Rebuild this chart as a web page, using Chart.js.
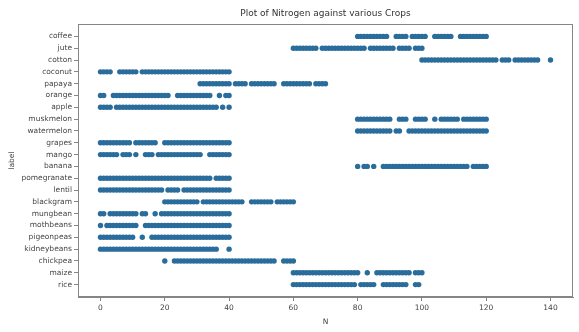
<!DOCTYPE html>
<html>
<head>
<meta charset="utf-8">
<script src="https://cdn.jsdelivr.net/npm/chart.js@4/dist/chart.umd.min.js"></script>
<style>
  html, body { margin: 0; padding: 0; background: #fff; }
  #c { display: block; }
</style>
</head>
<body>
<canvas id="c" width="579" height="332"></canvas>
<script>
// Crop labels, bottom row first
const crops = ['rice', 'maize', 'chickpea', 'kidneybeans', 'pigeonpeas', 'mothbeans',
  'mungbean', 'blackgram', 'lentil', 'pomegranate', 'banana', 'mango', 'grapes',
  'watermelon', 'muskmelon', 'apple', 'orange', 'papaya', 'coconut', 'cotton', 'jute', 'coffee'];

// Nitrogen (N) values observed for each crop
const riceN = [60,61,62,63,64,65,66,67,68,69,70,71,72,73,74,75,76,77,78,79,81,82,83,84,85,88,89,90,91,92,93,94,95,98,99];
const maizeN = [60,61,62,63,64,65,66,67,68,69,70,71,72,73,74,75,76,77,78,79,80,83,86,87,88,89,90,91,92,93,94,95,96,98,99,100];
const chickpeaN = [20,23,24,25,26,27,28,29,30,31,32,33,34,35,36,37,38,39,40,41,42,43,44,45,46,47,48,49,50,51,52,53,54,57,58,59,60];
const kidneybeansN = [0,1,2,3,4,5,6,7,8,9,10,11,12,13,14,15,16,17,18,19,20,21,22,23,24,25,26,27,28,29,30,31,32,33,34,35,36,40];
const pigeonpeasN = [0,1,2,3,4,5,6,7,8,9,10,13,16,17,18,19,20,21,22,23,24,25,26,27,28,29,30,31,32,33,34,35,36,37,38,39,40];
const mothbeansN = [0,2,3,4,5,6,7,8,9,10,11,14,15,16,17,18,19,20,21,22,23,24,25,26,27,28,29,30,31,32,33,34,35,36,37,38,39,40];
const mungbeanN = [0,1,3,4,5,6,7,8,9,10,11,13,14,17,19,20,21,22,23,24,25,26,27,28,29,30,31,32,33,34,35,36,37,38,39,40];
const blackgramN = [20,21,22,23,24,25,26,27,28,29,30,32,33,34,35,36,37,38,39,40,41,42,43,44,47,48,49,50,51,52,53,55,56,57,58,59,60];
const lentilN = [0,1,2,3,4,5,6,7,8,9,10,11,12,13,14,15,16,17,18,19,21,22,23,24,26,27,28,29,30,31,32,33,34,35,36,37,38,39,40];
const pomegranateN = [0,1,2,3,4,5,6,7,8,9,10,11,12,13,14,15,16,17,18,19,20,21,22,23,24,25,26,27,28,29,30,31,32,33,34,36,37,38,39,40];
const bananaN = [80,82,83,85,88,89,90,91,92,93,94,95,96,97,98,99,100,101,102,103,104,105,106,107,108,109,110,111,112,113,114,116,117,118,119,120];
const mangoN = [0,1,2,3,4,5,7,8,9,11,14,15,16,18,19,20,21,22,23,24,25,26,27,28,29,30,31,34,35,36,37,38,39,40];
const grapesN = [0,1,2,3,4,5,6,7,8,9,11,12,13,14,15,16,17,20,21,22,23,24,25,26,27,28,29,30,31,32,33,34,35,36,37,38,39,40];
const watermelonN = [80,81,82,83,84,85,86,87,88,89,90,92,93,96,97,98,99,100,101,102,103,104,105,106,107,108,109,110,111,112,113,114,115,116,117,118,119,120];
const muskmelonN = [80,81,82,83,84,85,86,87,88,89,90,93,94,95,98,99,100,101,104,106,107,108,109,110,111,113,114,115,116,117,118,119,120];
const appleN = [0,1,2,3,5,6,7,8,9,10,11,12,13,14,15,16,17,18,19,20,21,22,23,24,25,26,27,28,29,30,31,32,33,34,35,36,38,40];
const orangeN = [0,1,4,5,6,7,8,9,10,11,12,13,14,15,16,17,18,19,20,21,24,25,26,27,28,29,30,31,32,33,34,37,39,40];
const papayaN = [31,32,33,34,35,36,37,38,39,40,42,43,44,45,47,48,49,50,51,52,53,54,57,58,59,60,61,62,63,64,65,67,68,69,70];
const coconutN = [0,1,2,3,6,7,8,9,10,11,13,14,15,16,17,18,19,20,21,22,23,24,25,26,27,28,29,30,31,32,33,34,35,36,37,38,39,40];
const cottonN = [100,101,102,103,104,105,106,107,108,109,110,111,112,113,114,115,116,117,118,119,120,121,122,123,125,126,127,129,130,131,132,133,134,135,136,140];
const juteN = [60,61,62,63,64,65,66,67,69,70,71,72,73,74,75,76,77,78,79,80,81,82,84,85,86,87,88,89,90,91,93,94,95,96,98,99,100];
const coffeeN = [80,81,82,83,84,85,86,87,88,89,92,93,94,95,97,98,99,100,101,104,105,106,107,108,109,112,113,114,115,116,117,118,119,120];

const xTicks = [0, 20, 40, 60, 80, 100, 120, 140];

const valuesByCrop = [riceN, maizeN, chickpeaN, kidneybeansN, pigeonpeasN, mothbeansN,
  mungbeanN, blackgramN, lentilN, pomegranateN, bananaN, mangoN, grapesN,
  watermelonN, muskmelonN, appleN, orangeN, papayaN, coconutN, cottonN, juteN, coffeeN];

const points = [];
valuesByCrop.forEach((vals, row) => {
  vals.forEach(n => points.push({ x: n, y: row }));
});

// Draws the top and right edges so the plot area is boxed in
const frame = {
  id: 'frame',
  afterDraw(chart) {
    const { ctx, chartArea: a } = chart;
    ctx.save();
    ctx.strokeStyle = '#858585';
    ctx.lineWidth = 1;
    ctx.strokeRect(Math.round(a.left) + 0.5, Math.round(a.top) + 0.5,
      Math.round(a.right - a.left) - 1, Math.round(a.bottom - a.top) - 1);
    ctx.restore();
  }
};

const font = { family: "'DejaVu Sans', sans-serif", size: 7.5 };

new Chart(document.getElementById('c'), {
  type: 'scatter',
  data: {
    datasets: [{
      data: points,
      backgroundColor: '#2a6d9c',
      borderWidth: 0,
      pointRadius: 2.7,
      pointHoverRadius: 2.7
    }]
  },
  options: {
    responsive: false,
    animation: false,
    devicePixelRatio: 1,
    layout: { padding: { left: 0, right: 6, top: 0, bottom: 0 } },
    plugins: {
      legend: { display: false },
      tooltip: { enabled: false },
      title: {
        display: true,
        text: 'Plot of Nitrogen against various Crops',
        fullSize: false,
        color: '#333',
        font: { family: "'DejaVu Sans', sans-serif", size: 9, weight: 'normal' },
        padding: { top: 8.5, bottom: 4.7 }
      }
    },
    scales: {
      x: {
        type: 'linear',
        min: -7,
        max: 147,
        afterBuildTicks: s => { s.ticks = xTicks.map(v => ({ value: v })); },
        afterFit: s => { s.height = 35; },
        ticks: { font, color: '#444', padding: 2.5, maxRotation: 0 },
        grid: { drawOnChartArea: false, drawTicks: true, tickLength: 4, color: '#858585' },
        border: { display: true, color: '#858585' },
        title: {
          display: true, text: 'N', color: '#444',
          font: { family: "'DejaVu Sans', sans-serif", size: 7.5 },
          padding: { top: 0, bottom: 5.5 }
        }
      },
      y: {
        type: 'linear',
        min: -1.05,
        max: 22.05,
        afterBuildTicks: s => { s.ticks = crops.map((_, i) => ({ value: i })); },
        afterFit: s => { s.width = 78; },
        ticks: {
          font, color: '#444', padding: 2,
          callback: v => crops[v]
        },
        grid: { drawOnChartArea: false, drawTicks: true, tickLength: 4, color: '#858585' },
        border: { display: true, color: '#858585' },
        title: {
          display: true, text: 'label', color: '#444',
          font: { family: "'DejaVu Sans', sans-serif", size: 7.5 },
          padding: { top: 7.5, bottom: 0 }
        }
      }
    }
  },
  plugins: [frame]
});
</script>
</body>
</html>
